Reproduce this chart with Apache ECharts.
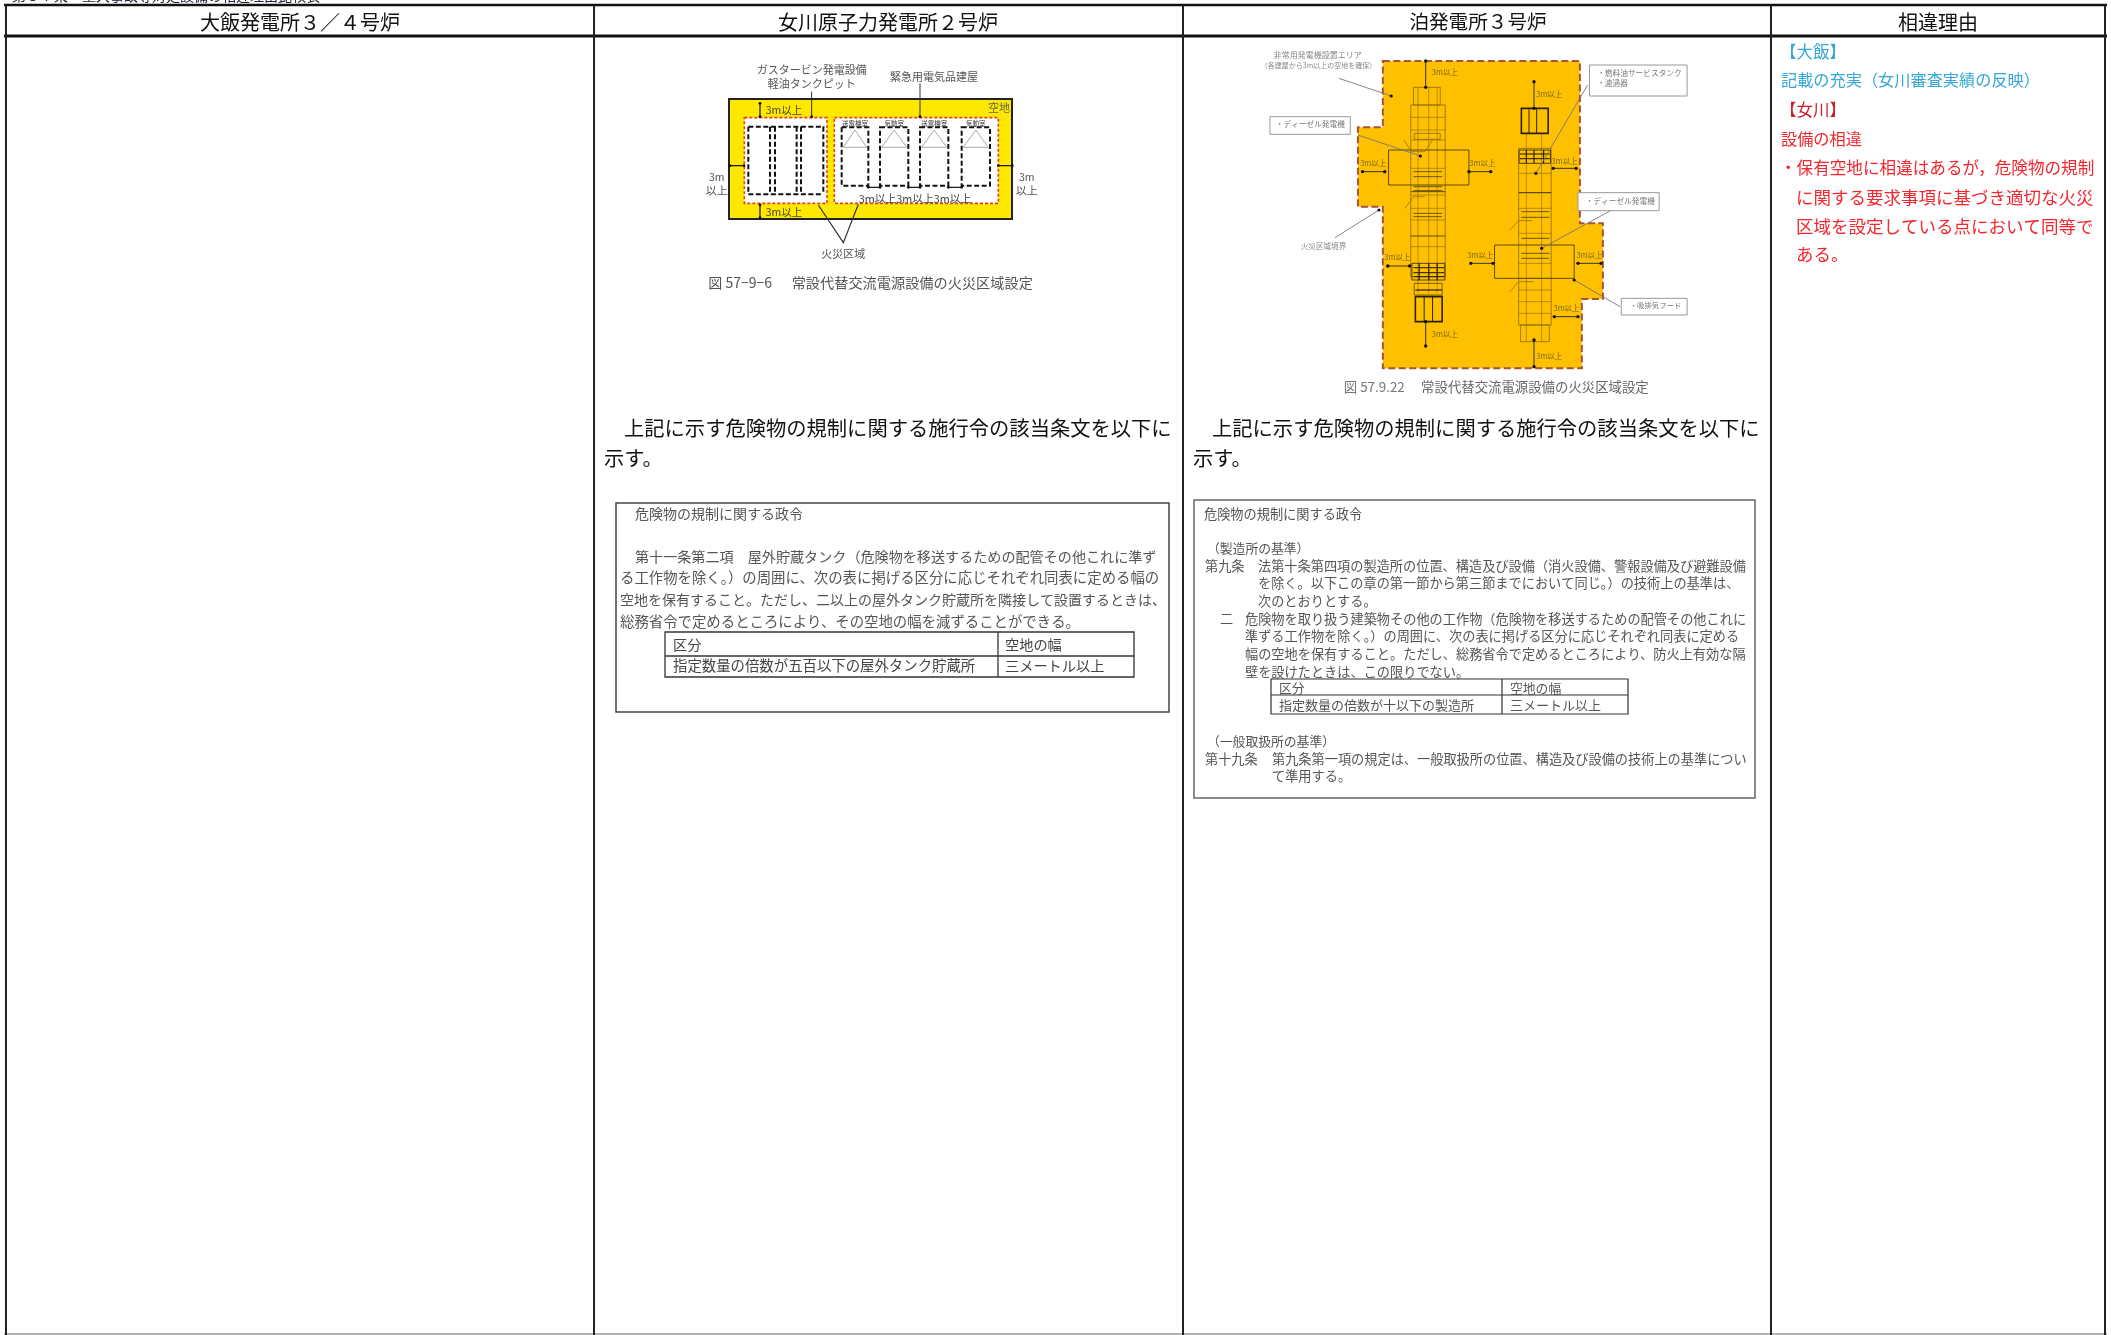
<!DOCTYPE html>
<html><head><meta charset="utf-8">
<style>html,body{margin:0;padding:0;background:#fff}#c{width:2111px;height:1335px;filter:blur(0.45px)}</style>
<script src="https://cdn.jsdelivr.net/npm/echarts@6/dist/echarts.min.js"></script>
</head><body><div id="c"></div>
<script>
// ---- text content ----
const pageNote = '第５７条　重大事故等対処設備の相違理由比較表';
const columnTitles = ['大飯発電所３／４号炉', '女川原子力発電所２号炉', '泊発電所３号炉', '相違理由'];
const introLines = ['上記に示す危険物の規制に関する施行令の該当条文を以下に', '示す。'];
const lawTitle = '危険物の規制に関する政令';
const onagawaLaw = [
  '第十一条第二項　屋外貯蔵タンク（危険物を移送するための配管その他これに準ず',
  'る工作物を除く。）の周囲に、次の表に掲げる区分に応じそれぞれ同表に定める幅の',
  '空地を保有すること。ただし、二以上の屋外タンク貯蔵所を隣接して設置するときは、',
  '総務省令で定めるところにより、その空地の幅を減ずることができる。'];
const onagawaTable = ['区分', '空地の幅', '指定数量の倍数が五百以下の屋外タンク貯蔵所', '三メートル以上'];
const tomariHead1 = '（製造所の基準）';
const tomariArt9 = ['第九条', '法第十条第四項の製造所の位置、構造及び設備（消火設備、警報設備及び避難設備',
  'を除く。以下この章の第一節から第三節までにおいて同じ。）の技術上の基準は、', '次のとおりとする。'];
const tomariItem2 = ['二', '危険物を取り扱う建築物その他の工作物（危険物を移送するための配管その他これに',
  '準ずる工作物を除く。）の周囲に、次の表に掲げる区分に応じそれぞれ同表に定める',
  '幅の空地を保有すること。ただし、総務省令で定めるところにより、防火上有効な隔',
  '壁を設けたときは、この限りでない。'];
const tomariTable = ['区分', '空地の幅', '指定数量の倍数が十以下の製造所', '三メートル以上'];
const tomariHead2 = '（一般取扱所の基準）';
const tomariArt19 = ['第十九条', '第九条第一項の規定は、一般取扱所の位置、構造及び設備の技術上の基準につい', 'て準用する。'];
const reasonOhi = ['【大飯】', '記載の充実（女川審査実績の反映）'];
const reasonOnagawa = ['【女川】', '設備の相違', '・保有空地に相違はあるが，危険物の規制',
  'に関する要求事項に基づき適切な火災', '区域を設定している点において同等で', 'ある。'];
const fig1Labels = ['ガスタービン発電設備', '軽油タンクピット', '緊急用電気品建屋', '空地', '3m以上', '3m以上3m以上3m以上', '3m', '以上', '火災区域'];
const fig1Rooms = ['送電機室', '気動室', '送電機室', '気動室'];
const fig1Caption = ['図 57−9−6', '常設代替交流電源設備の火災区域設定'];
const fig2Labels = ['非常用発電機設置エリア', '（各建屋から3m以上の空地を確保）', '火災区域境界', '・ディーゼル発電機', '・燃料油サービスタンク', '・濾過器', '・吸排気フード'];
const fig2Dim = '3m以上';
const fig2Caption = ['図 57.9.22', '常設代替交流電源設備の火災区域設定'];

// ---- drawing helpers ----
const FONT = '"Noto Sans CJK JP","Noto Sans",sans-serif';
const g = [];
function T(s, x, y, size, color, align, weight) {
  g.push({type:'text', x, y, silent:true, style:{text:s, fontSize:size, fontFamily:FONT, fill:color||'#444',
    align:align||'left', verticalAlign:'middle', fontWeight:weight||'normal'}});
}
function L(x1,y1,x2,y2,color,w,dash) {
  g.push({type:'line', silent:true, shape:{x1,y1,x2,y2}, style:{stroke:color||'#000', lineWidth:w||1, lineDash:dash||null}});
}
function R(x,y,w,h,fill,stroke,lw,dash) {
  g.push({type:'rect', silent:true, shape:{x,y,width:w,height:h}, style:{fill:fill||'none', stroke:stroke||'none', lineWidth:lw||1, lineDash:dash||null}});
}
function Dot(x,y,r,c){ g.push({type:'circle',silent:true,shape:{cx:x,cy:y,r:r||2},style:{fill:c||'#111'}}); }
function Poly(pts,fill,stroke,lw,dash){ g.push({type:'polygon',silent:true,shape:{points:pts},style:{fill:fill||'none',stroke:stroke||'none',lineWidth:lw||1,lineDash:dash||null}}); }
function PL(pts,stroke,lw){ g.push({type:'polyline',silent:true,shape:{points:pts},style:{stroke:stroke||'#000',lineWidth:lw||1,fill:'none'}}); }

// ---- table frame ----
const colX = [6, 594, 1183, 1771, 2105];
T(pageNote, 12, -4, 14, '#223', 'left');
L(4,5,2107,5,'#111',2.5);
L(4,36,2107,36,'#111',3);
L(4,1334,2107,1334,'#999',1.5);
colX.forEach((x,i)=>{ L(x,5,x,1335,'#222',2); });
[300,888,1478,1938].forEach((x,i)=>T(columnTitles[i],x,22,i===2?19.6:20,'#111','center'));

// ---- Figure 1 (Onagawa): coords are local px * 3 from origin (700,50) ----
const fx = v=>700+v/3, fy = v=>50+v/3;
R(fx(87),fy(147),283,120,'#FFE800','#222',2);
R(fx(133),fy(203),(381-133)/3,(460-203)/3,'#fff','#E8401C',1.6,[3,2]);
R(fx(403),fy(203),(895-403)/3,(460-203)/3,'#fff','#E8401C',1.6,[3,2]);
// dashed equipment outlines
const bd=[5,2.5];
L(fx(145),fy(230),fx(373),fy(230),'#111',2,bd);
L(fx(145),fy(433),fx(365),fy(433),'#111',2,bd);
[145,210,225,290,303,370].forEach(v=>L(fx(v),fy(230),fx(v),fy(433),'#111',2,bd));
[[425,505],[540,625],[660,745],[785,870]].forEach((r,i)=>{
  const m=(r[0]+r[1])/2;
  R(fx(r[0]),fy(232),(r[1]-r[0])/3,(407-232)/3,'none','#111',2,bd);
  Poly([[fx(m),fy(240)],[fx(r[0]+5),fy(292)],[fx(r[1]-5),fy(292)]],'none','#aaa',1);
  T(fig1Rooms[i],fx(m),fy(220),6.5,'#333','center');
});
function dbl(x1,y1,x2,y2){ L(x1,y1,x2,y2,'#111',1.2); Dot(x1,y1,1.4); Dot(x2,y2,1.4); }
dbl(fx(180),fy(160),fx(180),fy(200)); dbl(fx(180),fy(465),fx(180),fy(503));
dbl(fx(90),fy(347),fx(132),fy(347)); dbl(fx(895),fy(347),fx(937),fy(347));
dbl(fx(505),fy(412),fx(540),fy(412)); dbl(fx(625),fy(412),fx(660),fy(412)); dbl(fx(745),fy(412),fx(785),fy(412));
L(fx(335),fy(125),fx(335),fy(203),'#333',1); Dot(fx(335),fy(200),1.4);
L(fx(660),fy(100),fx(660),fy(203),'#333',1); Dot(fx(660),fy(200),1.4);
PL([[fx(355),fy(465)],[fx(430),fy(578)],[fx(475),fy(463)]],'#333',1.2);
T(fig1Labels[0],fx(335),fy(60),11,'#555','center');
T(fig1Labels[1],fx(335),fy(100),11,'#555','center');
T(fig1Labels[2],fx(702),fy(80),11,'#555','center');
T(fig1Labels[3],fx(897),fy(172),11,'#665','center');
T(fig1Labels[4],fx(197),fy(180),10.5,'#443');
T(fig1Labels[4],fx(197),fy(486),10.5,'#443');
T(fig1Labels[5],fx(476),fy(447),10.8,'#444');
T(fig1Labels[6],fx(50),fy(382),10.5,'#555','center'); T(fig1Labels[7],fx(50),fy(422),11,'#555','center');
T(fig1Labels[6],fx(980),fy(382),10.5,'#555','center'); T(fig1Labels[7],fx(980),fy(422),11,'#555','center');
T(fig1Labels[8],fx(430),fy(612),11,'#555','center');
T(fig1Caption[0],fx(25),fy(698),14,'#555');
T(fig1Caption[1],fx(275),fy(698),14.2,'#555');

// ---- Figure 2 (Tomari): coords from crop origin (1180,0), x/2.613, y/3 ----
const ax = v=>1180+v/2.613, ay = v=>v/3;
const P = (x,y)=>[ax(x),ay(y)];
Poly([P(530,183),P(1045,183),P(1045,670),P(1105,670),P(1105,897),P(1050,897),P(1050,1105),P(530,1105),P(530,620),P(465,620),P(465,382),P(530,382)],
  '#FFC000','#A8523A',2,[7,3.5]);
const dk='#8a6a10';
function rz(x1,y1,x2,y2,c,w){ R(ax(x1),ay(y1),(x2-x1)/2.613,(y2-y1)/3,'none',c||dk,w||0.8); }
function hz(x1,x2,y,c,w){ L(ax(x1),ay(y),ax(x2),ay(y),c||dk,w||0.6); }
function vz(x,y1,y2,c,w){ L(ax(x),ay(y1),ax(x),ay(y2),c||dk,w||0.6); }
const mid='#5e4a10', heavy='#2b2008';
// left unit
rz(610,262,680,315); rz(603,315,693,830);
[352,390,420,505,585,625,660,740].forEach(y=>hz(603,693,y));
[622,650,672].forEach(x=>vz(x,262,880));
hz(603,693,708,mid,1.2); hz(603,693,575,mid,1.0);
rz(545,450,755,555,mid,1);
[515,530,560,572,640,650].forEach(y=>hz(610,685,y,mid,0.9));
rz(612,400,680,418); PL([P(585,420),P(605,455),P(640,455),P(660,420)],dk,0.7);
PL([P(588,625),P(610,590),P(640,590)],dk,0.7);
// left machine
rz(606,790,692,840,heavy,0.8); [803,818,830].forEach(y=>hz(610,690,y,heavy,1.1));
[625,650,672].forEach(x=>vz(x,790,840,heavy,1.2));
rz(612,850,685,885,mid); hz(615,685,870,heavy,1.2);
rz(615,890,685,965,heavy,1.6); [638,660].forEach(x=>vz(x,890,965,heavy,1));
// right unit
rz(885,445,970,975); rz(890,975,965,1025);
[520,625,700,790,835,870,905,940].forEach(y=>hz(885,970,y));
[905,945].forEach(x=>vz(x,400,1025));
hz(885,970,578,mid,1.3);
rz(822,735,1030,835,mid,1);
[635,652,715,760,775].forEach(y=>hz(892,965,y,mid,0.9));
PL([P(862,875),P(885,845),P(925,845)],dk,0.7); PL([P(862,690),P(885,662),P(920,662)],dk,0.7);
rz(892,325,962,400,heavy,1.6); [912,932].forEach(x=>vz(x,325,400,heavy,1));
rz(886,450,968,490,heavy,0.8); [462,476].forEach(y=>hz(888,966,y,heavy,1.1));
[905,925,950].forEach(x=>vz(x,450,490,heavy,1.2));
// dimension arrows
const dims=[[642,183,642,262,692,215],[477,515,535,515,505,490],[755,515,812,515,790,490],[543,798,600,798,568,772],[642,965,642,1038,692,1003],
 [925,245,925,325,965,282],[975,505,1035,505,1005,482],[760,790,818,790,785,766],[1040,790,1100,790,1070,766],[978,950,1040,950,1010,925],[925,1020,925,1100,965,1067]];
dims.forEach(d=>{ L(ax(d[0]),ay(d[1]),ax(d[2]),ay(d[3]),'#222',0.9); Dot(ax(d[0]),ay(d[1]),1.7); Dot(ax(d[2]),ay(d[3]),1.7); T(fig2Dim,ax(d[4]),ay(d[5]),7.5,'#7a6520','center'); });
// label boxes and leaders
[[415,235,552,288],[405,713,520,630],[465,405,628,468],[1065,255,930,520],[1125,632,945,745],[1150,920,1030,840]].forEach(l=>{
  L(ax(l[0]),ay(l[1]),ax(l[2]),ay(l[3]),'#777',0.9); Dot(ax(l[2]),ay(l[3]),1.6); });
R(ax(235),ay(350),210/2.613,53/3,'#fff','#999',1);
R(ax(1070),ay(195),255/2.613,93/3,'#fff','#999',1);
R(ax(1040),ay(578),212/2.613,54/3,'#fff','#999',1);
R(ax(1153),ay(895),172/2.613,50/3,'#fff','#999',1);
T(fig2Labels[0],ax(360),ay(165),8,'#888','center');
T(fig2Labels[1],ax(362),ay(195),7,'#888','center');
T(fig2Labels[2],ax(375),ay(738),7.6,'#888','center');
T(fig2Labels[3],ax(250),ay(373),7.7,'#777');
T(fig2Labels[4],ax(1090),ay(220),7.7,'#777');
T(fig2Labels[5],ax(1090),ay(250),7.7,'#777');
T(fig2Labels[3],ax(1060),ay(602),7.7,'#777');
T(fig2Labels[6],ax(1175),ay(917),7.4,'#777');
T(fig2Caption[0],ax(428),ay(1162),13.4,'#777');
T(fig2Caption[1],ax(630),ay(1162),13.4,'#666');

// ---- intro text ----
[624,1212].forEach(x=>T(introLines[0],x,428,20.3,'#111'));
T(introLines[1],604,458,20.3,'#111'); T(introLines[1],1193,458,20.3,'#111');

// ---- Onagawa law box ----
R(616,503,553,209,'none','#444',1.5);
T(lawTitle,635,514,14,'#555');
[557,578,600,622].forEach((y,i)=>T(onagawaLaw[i], i===0?635:620, y, [14.1,14.4,14,14.4][i], '#555'));
R(665,632,469,45,'none','#333',1.3); L(665,656,1134,656,'#333',1.3); L(998,632,998,677,'#333',1.3);
T(onagawaTable[0],673,645,14.2,'#444'); T(onagawaTable[1],1005,645,14.2,'#444');
T(onagawaTable[2],673,666,14.4,'#444'); T(onagawaTable[3],1005,666,14.2,'#444');

// ---- Tomari law box ----
R(1194,500,561,298,'none','#666',1.5);
T(lawTitle,1204,514,13.2,'#555');
T(tomariHead1,1207,548,12.8,'#555');
T(tomariArt9[0],1205,566,13.2,'#555');
[566,583,601].forEach((y,i)=>T(tomariArt9[i+1],1258,y,13.2,'#555'));
T(tomariItem2[0],1220,619,13.2,'#555');
[619,636,654,672].forEach((y,i)=>T(tomariItem2[i+1],1245,y,13.2,'#555'));
R(1271,679,357,35,'none','#333',1.2); L(1271,695,1628,695,'#333',1.2); L(1502,679,1502,714,'#333',1.2);
T(tomariTable[0],1279,688,12.8,'#555'); T(tomariTable[1],1510,688,12.8,'#555');
T(tomariTable[2],1279,705,13,'#555'); T(tomariTable[3],1510,705,13,'#555');
T(tomariHead2,1207,741,12.8,'#555');
T(tomariArt19[0],1205,759,13.2,'#555');
T(tomariArt19[1],1272,759,13.2,'#555'); T(tomariArt19[2],1272,776,13.2,'#555');

// ---- reasons column ----
const blue='#35A7D6', red='#F4262E';
T(reasonOhi[0],1780,52,16.5,blue);
T(reasonOhi[1],1781,80,16.2,blue);
T(reasonOnagawa[0],1780,110,16.5,'#D0202A');
T(reasonOnagawa[1],1781,139,16.2,red);
T(reasonOnagawa[2],1780,168,16.6,red);
T(reasonOnagawa[3],1796,197,17.5,red);
T(reasonOnagawa[4],1796,226,17.5,red);
T(reasonOnagawa[5],1796,254,17.5,red);

const chart = echarts.init(document.getElementById('c'), null, {renderer:'canvas', width:2111, height:1335});
chart.setOption({animation:false, backgroundColor:'#fff', graphic:{elements:g}});
</script></body></html>
